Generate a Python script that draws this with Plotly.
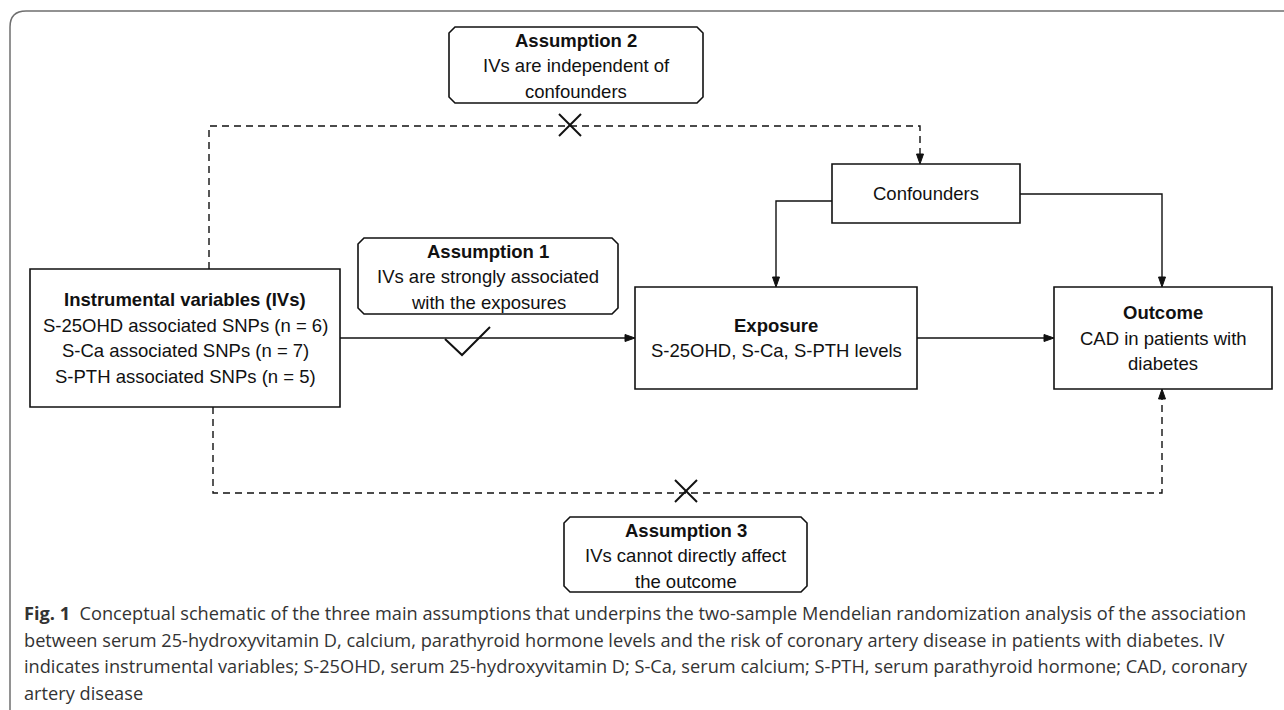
import plotly.graph_objects as go

# ---- content ----
node_names = ["ivs", "exposure", "outcome", "confounders"]
node_titles = ["Instrumental variables (IVs)", "Exposure", "Outcome", ""]
node_lines = [
    ["S-25OHD associated SNPs (n = 6)", "S-Ca associated SNPs (n = 7)", "S-PTH associated SNPs (n = 5)"],
    ["S-25OHD, S-Ca, S-PTH levels"],
    ["CAD in patients with", "diabetes"],
    ["Confounders"],
]
assumption_titles = ["Assumption 1", "Assumption 2", "Assumption 3"]
assumption_lines = [
    ["IVs are strongly associated", "with the exposures"],
    ["IVs are independent of", "confounders"],
    ["IVs cannot directly affect", "the outcome"],
]
caption_lines = [
    "<b>Fig. 1</b>  Conceptual schematic of the three main assumptions that underpins the two-sample Mendelian randomization analysis of the association",
    "between serum 25-hydroxyvitamin D, calcium, parathyroid hormone levels and the risk of coronary artery disease in patients with diabetes. IV",
    "indicates instrumental variables; S-25OHD, serum 25-hydroxyvitamin D; S-Ca, serum calcium; S-PTH, serum parathyroid hormone; CAD, coronary",
    "artery disease",
]

# ---- geometry (layout) ----
W, H = 1284, 710
node_boxes = {  # x0, y0, x1, y1
    "ivs": (30, 269, 340, 407),
    "exposure": (635, 287, 917, 389),
    "outcome": (1054, 287, 1272, 389),
    "confounders": (832, 164, 1020, 223),
}
assump_boxes = [(358, 238, 618, 314), (449, 27, 703, 103), (564, 517, 807, 592)]

FONT = "Liberation Sans, Arial, sans-serif"
FS = 18.5
LH = 25.5
BLACK = "#111111"

fig = go.Figure()
shapes = []
annotations = []


def txt(x, y, s, size=FS, bold=False, family=FONT, xanchor="center", color=BLACK):
    if bold:
        s = "<b>" + s + "</b>"
    annotations.append(dict(x=x, y=y, xref="x", yref="y", text=s, showarrow=False,
                            xanchor=xanchor, yanchor="middle",
                            font=dict(family=family, size=size, color=color)))


def rect(b, w=1.6):
    shapes.append(dict(type="rect", x0=b[0], y0=b[1], x1=b[2], y1=b[3], xref="x", yref="y",
                       line=dict(color=BLACK, width=w), fillcolor="rgba(0,0,0,0)"))


def chamfer(b, c=6, w=1.6):
    x0, y0, x1, y1 = b
    p = (f"M{x0+c},{y0} L{x1-c},{y0} L{x1},{y0+c} L{x1},{y1-c} L{x1-c},{y1} "
         f"L{x0+c},{y1} L{x0},{y1-c} L{x0},{y0+c} Z")
    shapes.append(dict(type="path", path=p, xref="x", yref="y",
                       line=dict(color=BLACK, width=w)))


def poly(pts, dash=None, w=1.4):
    p = "M" + " L".join(f"{x},{y}" for x, y in pts)
    ln = dict(color=BLACK, width=w)
    if dash:
        ln["dash"] = dash
    shapes.append(dict(type="path", path=p, xref="x", yref="y", line=ln))


def head(x, y, d, L=10, hw=3.5):
    if d == "down":
        pts = [(x, y), (x - hw, y - L), (x + hw, y - L)]
    elif d == "up":
        pts = [(x, y), (x - hw, y + L), (x + hw, y + L)]
    elif d == "right":
        pts = [(x, y), (x - L, y - hw), (x - L, y + hw)]
    else:
        pts = [(x, y), (x + L, y - hw), (x + L, y + hw)]
    p = "M" + " L".join(f"{a},{b}" for a, b in pts) + " Z"
    shapes.append(dict(type="path", path=p, xref="x", yref="y",
                       line=dict(color=BLACK, width=1), fillcolor=BLACK))


def cross(cx, cy, r=11):
    poly([(cx - r, cy - r), (cx + r, cy + r)], w=2)
    poly([(cx - r, cy + r), (cx + r, cy - r)], w=2)


# outer frame (left + top, rounded corner)
shapes.append(dict(type="path", path="M10,712 L10,27 Q10,11 26,11 L1290,11", xref="x", yref="y",
                   line=dict(color="#6f6f6f", width=1.5)))

# nodes
for i, name in enumerate(node_names):
    b = node_boxes[name]
    rect(b)
    cx = (b[0] + b[2]) / 2
    lines = ([(node_titles[i], True)] if node_titles[i] else []) + [(s, False) for s in node_lines[i]]
    cy = (b[1] + b[3]) / 2
    n = len(lines)
    for k, (s, bold) in enumerate(lines):
        y = cy + (k - (n - 1) / 2) * LH
        txt(cx, y, s, bold=bold)

# assumptions
for i, b in enumerate(assump_boxes):
    chamfer(b)
    cx = (b[0] + b[2]) / 2
    lines = [(assumption_titles[i], True)] + [(s, False) for s in assumption_lines[i]]
    top = b[1] + 13
    for k, (s, bold) in enumerate(lines):
        txt(cx, top + k * LH, s, bold=bold)

# solid arrows
poly([(340, 338), (627, 338)])
head(635, 338, "right")
poly([(917, 338), (1046, 338)])
head(1054, 338, "right")
poly([(832, 201), (776, 201), (776, 279)])
head(776, 287, "down")
poly([(1020, 194), (1162, 194), (1162, 279)])
head(1162, 287, "down")

# dashed paths
DASH = "7px,5px"
poly([(209, 269), (209, 126), (920, 126), (920, 154)], dash=DASH)
head(920, 164, "down")
poly([(213, 407), (213, 493), (1162, 493), (1162, 399)], dash=DASH)
head(1162, 389, "up")

# marks
cross(570, 125)
cross(686, 491)
poly([(445, 339), (462, 355), (490, 327)], w=2)

# caption
CAP_FONT = "Open Sans, Noto Sans, sans-serif"
for k, s in enumerate(caption_lines):
    annotations.append(dict(x=22, y=613 + k * 26.7, xref="x", yref="y", text=s, showarrow=False,
                            xanchor="left", yanchor="middle",
                            font=dict(family=CAP_FONT, size=18.2, color="#333333")))

fig.update_layout(
    width=W, height=H, margin=dict(l=0, r=0, t=0, b=0),
    paper_bgcolor="white", plot_bgcolor="white",
    xaxis=dict(range=[0, W], visible=False, fixedrange=True),
    yaxis=dict(range=[H, 0], visible=False, fixedrange=True),
    shapes=shapes, annotations=annotations, showlegend=False,
)
fig.write_html("out.html", config={"displayModeBar": False},
               post_script="document.body.style.margin='0';document.body.style.overflow='hidden';")
